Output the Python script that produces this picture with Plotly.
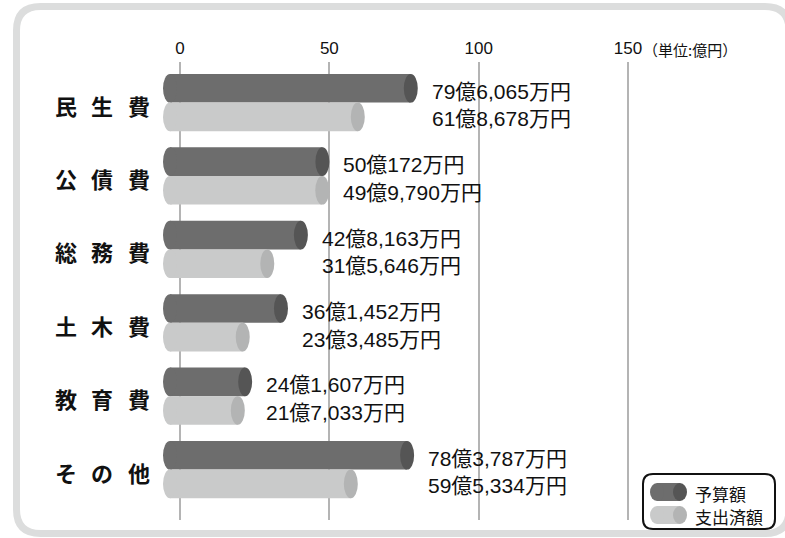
import plotly.graph_objects as go

categories = ["民生費", "公債費", "総務費", "土木費", "教育費", "その他"]
budget = [79.6065, 50.0172, 42.8163, 36.1452, 24.1607, 78.3787]          # 予算額 (億円)
spent = [61.8678, 49.9790, 31.5646, 23.3485, 21.7033, 59.5334]           # 支出済額 (億円)
budget_labels = ["79億6,065万円", "50億172万円", "42億8,163万円", "36億1,452万円", "24億1,607万円", "78億3,787万円"]
spent_labels = ["61億8,678万円", "49億9,790万円", "31億5,646万円", "23億3,485万円", "21億7,033万円", "59億5,334万円"]
x_ticks = [0, 50, 100, 150]
series_names = ["予算額", "支出済額"]
unit_text = "（単位:億円）"

W, H = 785, 538
L, R, T, B = 150, 640, 62, 520
XMIN, XMAX = -10.04, 154.0
PXU = (R - L) / (XMAX - XMIN)           # pixels per data unit
CAP_HW = 7 / PXU                        # half width of the cylinder caps (data units)
LEFT_C = (163 - L) / PXU + XMIN + CAP_HW  # centre of rounded left end
BW = 0.39

FONT = "Liberation Sans, Noto Sans CJK JP, sans-serif"
DARK, DARK_CAP = "#6d6d6d", "#555555"
LIGHT, LIGHT_CAP = "#c9caca", "#b3b4b4"

def pxp(x):
    return (x - L) / (R - L)

def pyp(y):
    return (B - y) / (B - T)

idx = list(range(len(categories)))

fig = go.Figure()
for vals, name, col, off in [(budget, series_names[0], DARK, -BW), (spent, series_names[1], LIGHT, 0.0)]:
    fig.add_trace(go.Bar(
        y=idx, x=[v - CAP_HW - LEFT_C for v in vals], base=LEFT_C,
        orientation="h", offset=off, width=BW, name=name,
        marker=dict(color=col, line=dict(width=0)), showlegend=False,
        hoverinfo="skip",
    ))

shapes = []
annotations = []
for i in idx:
    for vals, col, cap, y0, y1 in [(budget, DARK, DARK_CAP, i - BW, i), (spent, LIGHT, LIGHT_CAP, i, i + BW)]:
        v = vals[i]
        # rounded left end
        shapes.append(dict(type="circle", xref="x", yref="y", x0=LEFT_C - CAP_HW, x1=LEFT_C + CAP_HW,
                           y0=y0, y1=y1, fillcolor=col, line=dict(width=0), layer="above"))
        # cylinder cap at value
        shapes.append(dict(type="circle", xref="x", yref="y", x0=v - 2 * CAP_HW, x1=v,
                           y0=y0, y1=y1, fillcolor=cap, line=dict(width=0), layer="above"))
    annotations.append(dict(x=budget[i], y=i - BW / 2, xref="x", yref="y", text=budget_labels[i],
                            showarrow=False, xanchor="left", yanchor="middle", xshift=12, yshift=-3,
                            font=dict(family=FONT, size=21, color="#111111")))
    annotations.append(dict(x=budget[i], y=i + BW / 2, xref="x", yref="y", text=spent_labels[i],
                            showarrow=False, xanchor="left", yanchor="middle", xshift=12, yshift=-2,
                            font=dict(family=FONT, size=21, color="#111111")))
    # category label, spaced characters
    for ch, cx in zip(categories[i], [66, 102, 139]):
        annotations.append(dict(x=pxp(cx), y=i, xref="paper", yref="y", text=ch, showarrow=False,
                                xanchor="center", yanchor="middle", yshift=-2,
                                font=dict(family="Noto Sans CJK JP", size=22, color="#111111", weight="bold")))

# unit label next to 150 tick
annotations.append(dict(x=pxp(641), y=pyp(50), xref="paper", yref="paper", text=unit_text, showarrow=False,
                        xanchor="left", yanchor="middle", font=dict(family="Noto Sans CJK JP", size=15, color="#111111")))

# outer rounded frame
def rounded_path(x0, y0, x1, y1, r):
    pts = [
        ("M", (x0 + r, y0)), ("L", (x1 - r, y0)), ("Q", (x1, y0), (x1, y0 + r)),
        ("L", (x1, y1 - r)), ("Q", (x1, y1), (x1 - r, y1)), ("L", (x0 + r, y1)),
        ("Q", (x0, y1), (x0, y1 - r)), ("L", (x0, y0 + r)), ("Q", (x0, y0), (x0 + r, y0)),
    ]
    s = ""
    for p in pts:
        coords = " ".join(f"{pxp(a):.5f},{pyp(b):.5f}" for a, b in p[1:])
        s += f"{p[0]} {coords} "
    return s + "Z"

shapes.append(dict(type="path", xref="paper", yref="paper", path=rounded_path(16.5, 6.5, 789, 533.5, 24),
                   line=dict(color="#dcdddd", width=7), fillcolor="rgba(0,0,0,0)", layer="below"))

# custom legend
shapes.append(dict(type="path", xref="paper", yref="paper", path=rounded_path(643, 474, 775, 529, 10),
                   line=dict(color="#111111", width=2), fillcolor="white", layer="above"))
for (yc0, yc1), col, cap, name, ty in [((483, 501), DARK, DARK_CAP, series_names[0], 493),
                                       ((506, 524), LIGHT, LIGHT_CAP, series_names[1], 516)]:
    shapes.append(dict(type="rect", xref="paper", yref="paper", x0=pxp(657), x1=pxp(680),
                       y0=pyp(yc1), y1=pyp(yc0), fillcolor=col, line=dict(width=0), layer="above"))
    shapes.append(dict(type="circle", xref="paper", yref="paper", x0=pxp(650), x1=pxp(664),
                       y0=pyp(yc1), y1=pyp(yc0), fillcolor=col, line=dict(width=0), layer="above"))
    shapes.append(dict(type="circle", xref="paper", yref="paper", x0=pxp(673), x1=pxp(687),
                       y0=pyp(yc1), y1=pyp(yc0), fillcolor=cap, line=dict(width=0), layer="above"))
    annotations.append(dict(x=pxp(693), y=pyp(ty), xref="paper", yref="paper", text=name, showarrow=False,
                            xanchor="left", yanchor="middle",
                            font=dict(family="Noto Sans CJK JP", size=17, color="#111111")))

fig.update_layout(
    width=W, height=H,
    margin=dict(l=L, r=W - R, t=T, b=H - B, pad=0),
    paper_bgcolor="white", plot_bgcolor="white",
    barmode="overlay",
    showlegend=False,
    shapes=shapes, annotations=annotations,
    xaxis=dict(range=[XMIN, XMAX], side="top", tickvals=x_ticks, ticktext=[str(t) for t in x_ticks],
               showgrid=True, gridcolor="#b4b4b4", gridwidth=1.5, zeroline=False, showline=False,
               ticks="", ticklabelstandoff=4,
               tickfont=dict(family=FONT, size=17, color="#111111"), fixedrange=True),
    yaxis=dict(range=[5.687, -0.553], showgrid=False, zeroline=False, showline=False,
               showticklabels=False, ticks="", fixedrange=True),
)

fig.write_html("out.html", config={"displayModeBar": False},
               post_script="document.body.style.margin='0';document.body.style.overflow='hidden';")
